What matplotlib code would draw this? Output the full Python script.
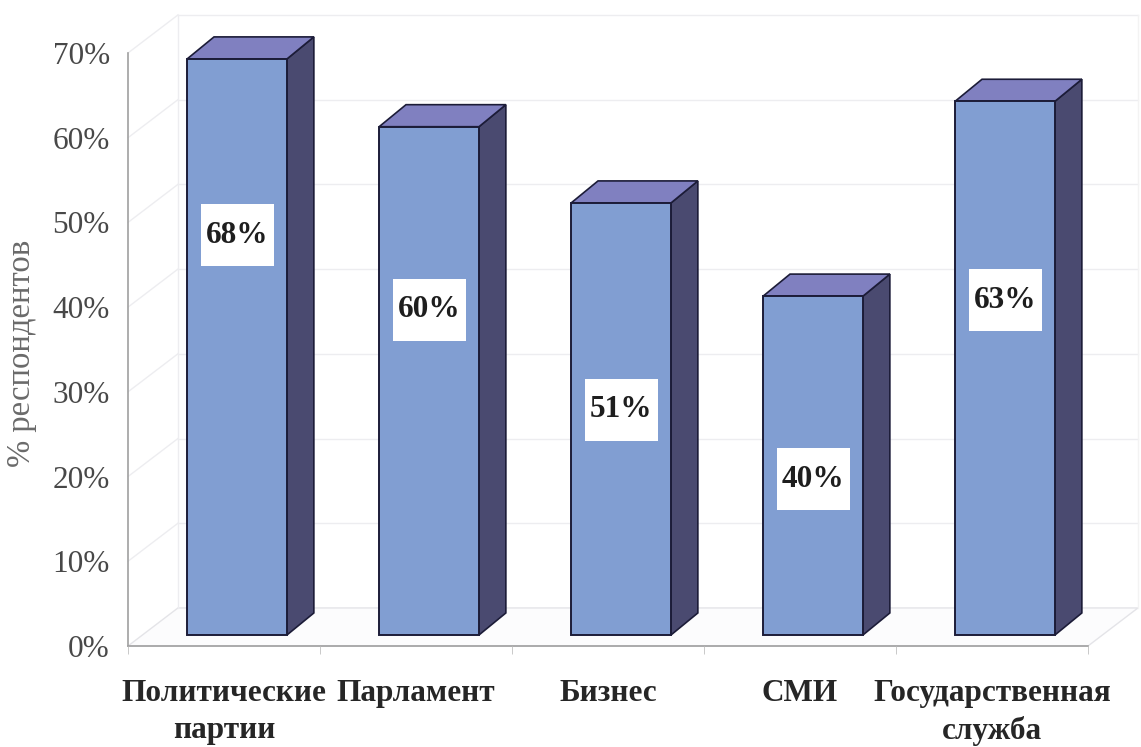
import matplotlib
matplotlib.use("Agg")
import matplotlib.pyplot as plt
from matplotlib.patches import Polygon, Rectangle

categories = ["Политические\nпартии", "Парламент", "Бизнес", "СМИ", "Государственная\nслужба"]
values = [68, 60, 51, 40, 63]
value_labels = ["68%", "60%", "51%", "40%", "63%"]
yticks = [0, 10, 20, 30, 40, 50, 60, 70]
ytick_labels = ["0%", "10%", "20%", "30%", "40%", "50%", "60%", "70%"]
ylabel = "% респондентов"

# label anchor heights (data units) as placed in the original
label_heights = [48.5, 39.7, 27.9, 19.7, 40.8]

SERIF = "Liberation Serif"
W, H, DPI = 1141, 747, 100
fig = plt.figure(figsize=(W / DPI, H / DPI), dpi=DPI)
ax = fig.add_axes([128 / W, (H - 646) / H, 960 / W, 593 / H])
ax.set_xlim(-0.5, len(categories) - 0.5)
ax.set_ylim(0, 70)
for s in ax.spines.values():
    s.set_visible(False)
ax.set_facecolor("none")

# 3D geometry in data units
DX, DY = 0.26, 4.49          # wall depth
FX, FY = 0.068, 1.3          # bar front offset
BX, BY = 0.14, 2.6           # bar depth
BW = 0.52                    # bar width

wall = "#ededf0"
n = len(categories)
x0, x1 = -0.5, n - 0.5
# floor
ax.add_patch(Polygon([(x0, 0), (x1, 0), (x1 + DX, DY), (x0 + DX, DY)], closed=True,
                     facecolor="#fcfcfd", edgecolor="#e4e4e8", lw=1.0, clip_on=False, zorder=0))
# back wall & side wall gridlines
for t in yticks[1:]:
    ax.plot([x0 + DX, x1 + DX], [t + DY, t + DY], color=wall, lw=1.0, clip_on=False, zorder=0)
    ax.plot([x0, x0 + DX], [t, t + DY], color=wall, lw=1.0, clip_on=False, zorder=0)
ax.plot([x0 + DX, x0 + DX], [DY, 70 + DY], color=wall, lw=1.0, clip_on=False, zorder=0)
ax.plot([x1 + DX, x1 + DX], [DY, 70 + DY], color="#f3f3f3", lw=1.0, clip_on=False, zorder=0)

front_c = "#819ed2"
top_c = "#8080c0"
side_c = "#4a4a70"
edge_c = "#1c1c38"

for i, v in enumerate(values):
    xl = i - BW / 2 + FX
    xr = xl + BW
    yb = FY
    yt = FY + v
    ax.add_patch(Polygon([(xr, yb), (xr + BX, yb + BY), (xr + BX, yt + BY), (xr, yt)], closed=True,
                         facecolor=side_c, edgecolor=edge_c, lw=1.2, zorder=3, clip_on=False))
    ax.add_patch(Polygon([(xl, yt), (xr, yt), (xr + BX, yt + BY), (xl + BX, yt + BY)], closed=True,
                         facecolor=top_c, edgecolor=edge_c, lw=1.2, zorder=3, clip_on=False))
    ax.add_patch(Rectangle((xl, yb), BW, v, facecolor=front_c, edgecolor=edge_c, lw=1.4,
                           zorder=4, clip_on=False))
    cx = (xl + xr) / 2
    ly = label_heights[i]
    bw, bh = 0.38, 7.3
    ax.add_patch(Rectangle((cx - bw / 2, ly - bh / 2), bw, bh, facecolor="white",
                           edgecolor="none", zorder=5))
    ax.text(cx, ly, value_labels[i], ha="center", va="center", fontsize=22.5,
            fontweight="bold", family=SERIF, color="#1e1e1e", zorder=6)

# axis lines
ax.plot([x0, x0], [0, 70], color="#a0a0a0", lw=1.2, clip_on=False, zorder=1)
ax.plot([x0, x1], [0, 0], color="#a0a0a0", lw=1.2, clip_on=False, zorder=1)

ax.set_yticks(yticks)
ax.set_yticklabels(ytick_labels, family=SERIF, fontsize=22.5, color="#484848")
ax.tick_params(axis="y", length=0, pad=13)

ax.set_xticks(range(n))
ax.set_xticklabels(categories, family=SERIF, fontsize=22.5, fontweight="bold",
                   color="#262626", linespacing=1.35)
ax.set_xticks([i + 0.5 for i in range(-1, n)], minor=True)
ax.tick_params(axis="x", which="major", length=0, pad=24)
ax.tick_params(axis="x", which="minor", length=6, color="#c0c0c0", direction="out")

fig.text(22 / W, (H - 353) / H, ylabel, rotation=90, ha="center", va="center",
         family=SERIF, fontsize=23.5, color="#6a6a6a")

fig.savefig("out.png", dpi=DPI, facecolor="white")
